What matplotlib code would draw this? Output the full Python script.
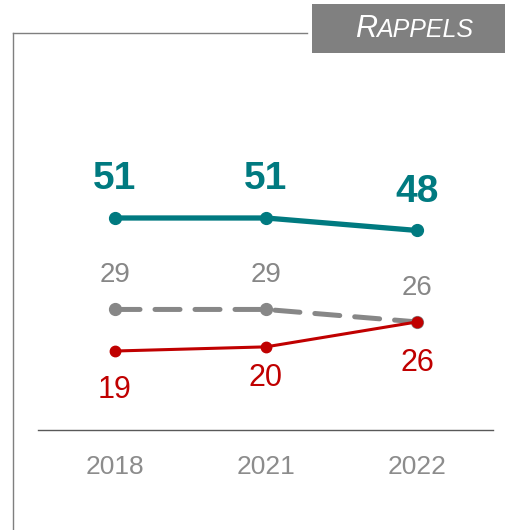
import matplotlib
matplotlib.use("Agg")
import matplotlib.pyplot as plt
from matplotlib.patches import Rectangle
from matplotlib.lines import Line2D

# data
years = ["2018", "2021", "2022"]
teal_vals = [51, 51, 48]
grey_vals = [29, 29, 26]
red_vals = [19, 20, 26]

W, H = 505, 530
fig = plt.figure(figsize=(W / 100, H / 100), dpi=100)
ax = fig.add_axes([0, 0, 1, 1])
ax.set_axis_off()

# pixel mapping: value 0 at y=430 px from top, 4.157 px per unit
scale = 4.157
ax.set_ylim(-100 / scale, 430 / scale)
ax.set_xlim(-115 / 151, (W - 115) / 151)

x = range(len(years))
teal = "#007A80"
grey = "#878787"
red = "#C00000"

ax.plot(x, teal_vals, color=teal, lw=3.8, marker="o", ms=8.5, solid_capstyle="round", zorder=3)
ax.plot(x, grey_vals, color=grey, lw=3.6, marker="o", ms=8.5, dashes=(5, 3),
        dash_capstyle="round", zorder=2)
ax.plot(x, red_vals, color=red, lw=2.2, marker="o", ms=7.5, zorder=4)

# value labels
for i, v in enumerate(teal_vals):
    ax.annotate(str(v), (i, v), xytext=(0, 28), textcoords="offset points",
                ha="center", va="center", fontsize=28, fontweight="bold",
                color=teal, family="Liberation Sans")
for i, v in enumerate(grey_vals):
    ax.annotate(str(v), (i, v), xytext=(0, 24.5), textcoords="offset points",
                ha="center", va="center", fontsize=20,
                color=grey, family="Liberation Sans")
red_off = [-28, -22.5, -29.5]
for i, v in enumerate(red_vals):
    ax.annotate(str(v), (i, v), xytext=(0, red_off[i]), textcoords="offset points",
                ha="center", va="center", fontsize=22,
                color=red, family="Liberation Sans")

# axis line and year labels
ax.axhline(0, xmin=38 / W, xmax=493 / W, color="#595959", lw=1)
for i, yr in enumerate(years):
    ax.annotate(yr, (i, 0), xytext=(0, -26.6), textcoords="offset points",
                ha="center", va="center", fontsize=19, color="#8c8c8c",
                family="Liberation Sans")

# frame lines
fig.add_artist(Line2D([13 / W, 13 / W], [0, 1 - 33 / H], color="#7f7f7f", lw=1))
fig.add_artist(Line2D([13 / W, 307 / W], [1 - 33 / H, 1 - 33 / H], color="#7f7f7f", lw=1))

# title box
fig.add_artist(Rectangle((312 / W, 1 - 53 / H), (W - 312) / W, 49 / H,
                         transform=fig.transFigure, facecolor="#808080", edgecolor="none",
                         zorder=1))
fig.text(355 / W, 1 - 37 / H, "R", color="white", fontsize=22, style="italic",
         family="Liberation Sans", va="baseline", ha="left", zorder=5)
fig.text(376 / W, 1 - 37 / H, "APPELS", color="white", fontsize=18, style="italic",
         family="Liberation Sans", va="baseline", ha="left", zorder=5)

fig.savefig("out.png", dpi=100)
